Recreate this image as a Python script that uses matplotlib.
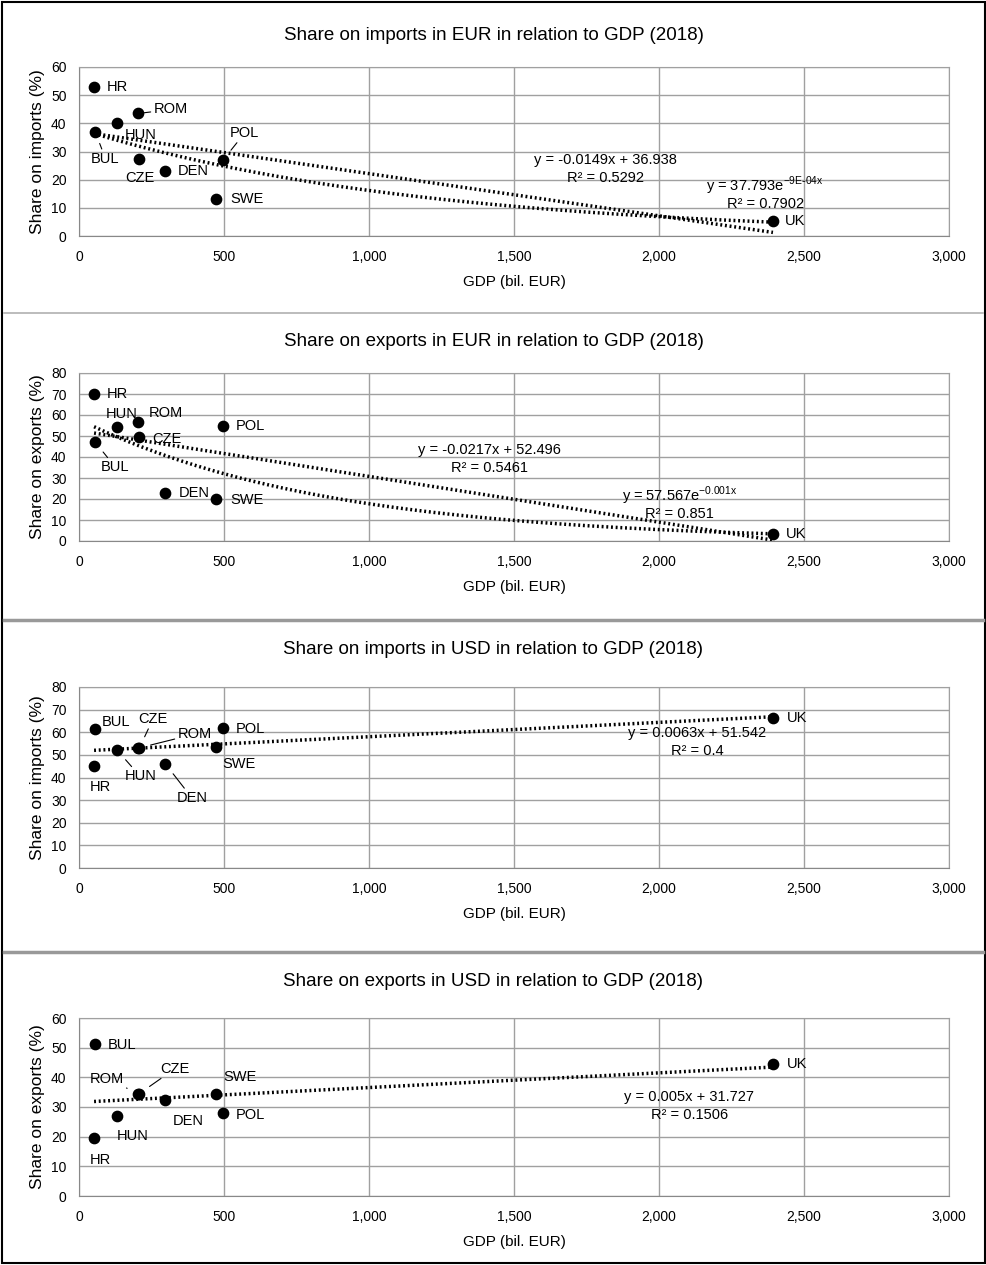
import numpy as np
import matplotlib.pyplot as plt
from matplotlib.lines import Line2D
from matplotlib.patches import Rectangle

plt.rcParams['font.family'] = ['Liberation Sans', 'DejaVu Sans']

countries = ['HR', 'BUL', 'HUN', 'ROM', 'CZE', 'DEN', 'SWE', 'POL', 'UK']
gdp = [52, 56, 132, 205, 208, 298, 471, 497, 2393]

imp_eur = [53, 37, 40, 43.5, 27.5, 23, 13, 27, 5.5]
exp_eur = [70, 47, 54.5, 56.5, 49.5, 23, 20, 55, 3.5]
imp_usd = [45, 61.5, 52, 53, 53, 46, 53.5, 62, 66.5]
exp_usd = [19.5, 51.2, 26.8, 34.5, 34.5, 32.3, 34.5, 28, 44.5]

titles = ['Share on imports in EUR in relation to GDP (2018)',
          'Share on exports in EUR in relation to GDP (2018)',
          'Share on imports in USD in relation to GDP (2018)',
          'Share on exports in USD in relation to GDP (2018)']
ylabels = ['Share on imports (%)', 'Share on exports (%)',
           'Share on imports (%)', 'Share on exports (%)']
ymaxes = [60, 80, 80, 60]

# label offsets (pixels) for each country in each panel: (dx, dy, leader)
offs = [
    {'HR': (13, 0, 0), 'BUL': (-4, -27, 1), 'HUN': (7, -12, 0), 'ROM': (15, 4, 1),
     'CZE': (-14, -19, 0), 'DEN': (12, 0, 0), 'SWE': (15, 0, 0), 'POL': (7, 27, 1), 'UK': (12, 0, 0)},
    {'HR': (13, 0, 0), 'BUL': (6, -25, 1), 'HUN': (-12, 13, 0), 'ROM': (10, 9, 0),
     'CZE': (13, -2, 0), 'DEN': (13, 0, 0), 'SWE': (15, -1, 0), 'POL': (13, -1, 0), 'UK': (13, 0, 0)},
    {'HR': (-4, -21, 0), 'BUL': (7, 7, 0), 'HUN': (7, -26, 1), 'ROM': (39, 14, 1),
     'CZE': (-1, 29, 1), 'DEN': (11, -34, 1), 'SWE': (7, -17, 0), 'POL': (13, -1, 0), 'UK': (14, 0, 0)},
    {'HR': (-4, -22, 0), 'BUL': (13, -1, 0), 'HUN': (-1, -20, 0), 'ROM': (-49, 15, 1),
     'CZE': (21, 25, 1), 'DEN': (7, -21, 0), 'SWE': (8, 17, 0), 'POL': (13, -2, 0), 'UK': (14, 0, 0)},
]

fits = [('lin', 'exp'), ('lin', 'exp'), ('lin',), ('lin',)]
eq_text = [
    [('y = -0.0149x + 36.938', 'R² = 0.5292', 1814, 27),
     (r'y = 37.793e$^{\mathregular{-9E\text{-}04x}}$', 'R² = 0.7902', 2366, 17.7)],
    [('y = -0.0217x + 52.496', 'R² = 0.5461', 1417, 43.3),
     (r'y = 57.567e$^{\mathregular{-0.001x}}$', 'R² = 0.851', 2072, 21.4)],
    [('y = 0.0063x + 51.542', 'R² = 0.4', 2131, 59.7)],
    [('y = 0.005x + 31.727', 'R² = 0.1506', 2104, 33.3)],
]

series = [imp_eur, exp_eur, imp_usd, exp_usd]
# axes boxes in figure pixels (top, bottom)
boxes = [(67, 236), (373, 541), (687, 868), (1018, 1196)]
title_y = [35, 341, 650, 982]

W, H = 987, 1265
fig = plt.figure(figsize=(W / 100, H / 100), dpi=100)

for i in range(4):
    top, bot = boxes[i]
    ax = fig.add_axes([79 / W, 1 - bot / H, 870 / W, (bot - top) / H])
    y = np.array(series[i], dtype=float)
    x = np.array(gdp, dtype=float)
    ax.scatter(x, y, s=55, color='black', zorder=4)
    xs = np.linspace(x.min(), x.max(), 200)
    for kind in fits[i]:
        if kind == 'lin':
            p = np.polyfit(x, y, 1)
            ax.plot(xs, np.polyval(p, xs), color='black', lw=2.5, ls=(0, (0.55, 0.8)), zorder=3)
        else:
            p = np.polyfit(x, np.log(y), 1)
            ax.plot(xs, np.exp(np.polyval(p, xs)), color='black', lw=2.5, ls=(0, (0.55, 0.8)), zorder=3)
    for c, xv, yv in zip(countries, x, y):
        dx, dy, lead = offs[i][c]
        ax.annotate(c, (xv, yv), xytext=(dx, dy), textcoords='offset pixels',
                    ha='left', va='center', fontsize=10.5, zorder=5,
                    arrowprops=dict(arrowstyle='-', color='black', lw=0.8,
                                    shrinkA=0, shrinkB=9) if lead else None)
    for eq, r2, ex, ey in eq_text[i]:
        ax.annotate(eq, (ex, ey), ha='center', va='center', fontsize=10.5, zorder=5)
        ax.annotate(r2, (ex, ey), xytext=(0, -18), textcoords='offset pixels',
                    ha='center', va='center', fontsize=10.5, zorder=5)
    ax.set_xlim(0, 3000)
    ax.set_ylim(0, ymaxes[i])
    ax.set_xticks(np.arange(0, 3001, 500))
    ax.set_xticklabels([f'{v:,}' for v in range(0, 3001, 500)])
    ax.set_yticks(np.arange(0, ymaxes[i] + 1, 10))
    ax.grid(True, color='#a0a0a0', lw=1)
    ax.set_axisbelow(True)
    for s in ax.spines.values():
        s.set_color('#a0a0a0')
    ax.spines['left'].set_color('#888888')
    ax.spines['bottom'].set_color('#888888')
    ax.tick_params(length=0, labelsize=10)
    ax.tick_params(axis='x', pad=10)
    ax.tick_params(axis='y', pad=9)
    ax.set_xlabel('GDP (bil. EUR)', fontsize=11, labelpad=8)
    ax.set_ylabel(ylabels[i], fontsize=12.5, labelpad=4)
    fig.text(0.5, 1 - title_y[i] / H, titles[i], ha='center', va='center', fontsize=13.5)

# separators between panels
for yy, lw, col in [(313, 1.2, '#b0b0b0'), (620, 2.5, '#999999'), (952, 2.5, '#999999')]:
    fig.add_artist(Line2D([4 / W, 983 / W], [1 - yy / H, 1 - yy / H],
                          transform=fig.transFigure, color=col, lw=lw))
fig.add_artist(Rectangle((2 / W, 2 / H), 983 / W, 1261 / H, transform=fig.transFigure,
                         fill=False, edgecolor='black', lw=1.5))

fig.savefig('out.png', dpi=100)
